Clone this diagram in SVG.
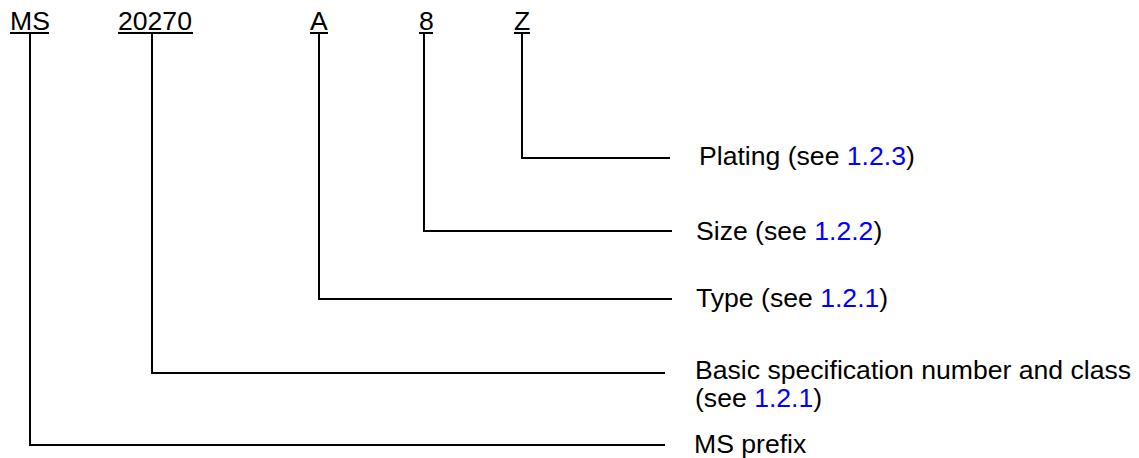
<svg xmlns="http://www.w3.org/2000/svg" width="1139" height="458" viewBox="0 0 1139 458">
<style>
text{font-family:"Liberation Sans",Arial,sans-serif;font-size:26.6px;fill:#000}
.ref{fill:#0000ff}
.c{fill:none;stroke:#000;stroke-width:2}
.u{stroke:#000;stroke-width:2}
</style>
<rect width="1139" height="458" fill="#fff"/>
<g id="code">
<g id="n-ms"><text x="10" y="30">MS</text><line class="u" x1="10" y1="33" x2="49" y2="33"/></g>
<g id="n-20270"><text x="118" y="30">20270</text><line class="u" x1="118" y1="33" x2="193" y2="33"/></g>
<g id="n-a"><text x="310" y="30">A</text><line class="u" x1="310" y1="33" x2="328" y2="33"/></g>
<g id="n-8"><text x="419" y="30">8</text><line class="u" x1="419" y1="33" x2="433" y2="33"/></g>
<g id="n-z"><text x="514" y="30">Z</text><line class="u" x1="514" y1="33" x2="530" y2="33"/></g>
</g>
<g id="labels">
<g id="l-plating"><text x="699" y="165">Plating (see <tspan class="ref">1.2.3</tspan>)</text></g>
<g id="l-size"><text x="696" y="240">Size (see <tspan class="ref">1.2.2</tspan>)</text></g>
<g id="l-type"><text x="696" y="307">Type (see <tspan class="ref">1.2.1</tspan>)</text></g>
<g id="l-basic"><text x="695" y="379">Basic specification number and class</text><text x="695" y="407">(see <tspan class="ref">1.2.1</tspan>)</text></g>
<g id="l-ms"><text x="694" y="453">MS prefix</text></g>
</g>
<g id="connectors">
<path class="c" d="M522,34 V158 H670"/>
<path class="c" d="M424,34 V231 H672"/>
<path class="c" d="M319,34 V299 H672"/>
<path class="c" d="M152,34 V373 H665"/>
<path class="c" d="M30,34 V445 H665"/>
</g>
</svg>
